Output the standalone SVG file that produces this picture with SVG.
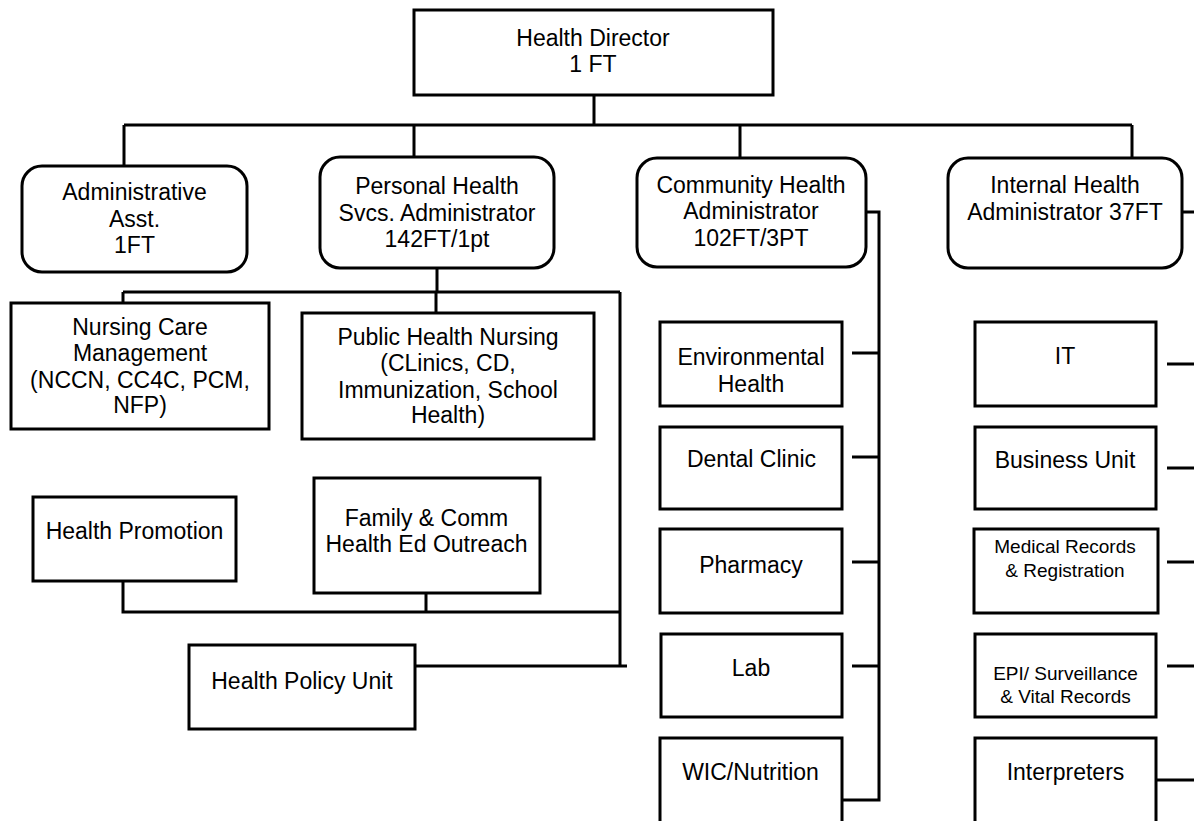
<svg xmlns="http://www.w3.org/2000/svg" width="1194" height="821" viewBox="0 0 1194 821">
<style>
.box{fill:#fff;stroke:#000;stroke-width:3}
.ln{fill:none;stroke:#000;stroke-width:3}
text{font-family:"Liberation Sans",Arial,sans-serif;font-size:23px;fill:#000;text-anchor:middle}
.sm{font-size:19px}
</style>
<rect width="1194" height="821" fill="#fff"/>
<g id="connectors" class="ln">
<path d="M594 95V125M124 125H1132M124 125V166M414 125V157M740 125V157M1132 125V157"/>
<path d="M437 268V292M123 292H620M123 292V303M436 292V313M620 292V666M415 666H627"/>
<path d="M123 581V612H620M426 593V612"/>
<path d="M866 212H879V800H842M852 353H879M852 457H879M852 562H879M852 666H879"/>
<path d="M1182 212H1194M1167 364H1194M1167 468H1194M1167 562H1194M1167 666H1194M1156 780H1194"/>
</g>
<g id="director"><rect class="box" x="414" y="10" width="359" height="85"/><text x="593" y="46">Health Director</text><text x="593" y="72">1 FT</text></g>
<g id="admin"><rect class="box" x="22" y="166" width="225" height="106" rx="20"/><text x="134.5" y="200">Administrative</text><text x="134.5" y="226.5">Asst.</text><text x="134.5" y="252.5">1FT</text></g>
<g id="personal"><rect class="box" x="320" y="157" width="234" height="111" rx="20"/><text x="437" y="194">Personal Health</text><text x="437" y="220.5">Svcs. Administrator</text><text x="437" y="246.5">142FT/1pt</text></g>
<g id="community"><rect class="box" x="637" y="158" width="229" height="109" rx="20"/><text x="751" y="193">Community Health</text><text x="751" y="219">Administrator</text><text x="751" y="246">102FT/3PT</text></g>
<g id="internal"><rect class="box" x="948" y="158" width="234" height="110" rx="20"/><text x="1065" y="193">Internal Health</text><text x="1065" y="220">Administrator 37FT</text></g>
<g id="nursing-care"><rect class="box" x="11" y="303" width="258" height="126"/><text x="140" y="335">Nursing Care</text><text x="140" y="361">Management</text><text x="140" y="388">(NCCN, CC4C, PCM,</text><text x="140" y="413">NFP)</text></g>
<g id="public-health-nursing"><rect class="box" x="302" y="313" width="292" height="126"/><text x="448" y="345">Public Health Nursing</text><text x="448" y="371">(CLinics, CD,</text><text x="448" y="398">Immunization, School</text><text x="448" y="423">Health)</text></g>
<g id="health-promotion"><rect class="box" x="33" y="497" width="203" height="84"/><text x="134.5" y="539">Health Promotion</text></g>
<g id="family-comm"><rect class="box" x="314" y="478" width="226" height="115"/><text x="426.5" y="526">Family &amp; Comm</text><text x="426.5" y="552">Health Ed Outreach</text></g>
<g id="health-policy"><rect class="box" x="189" y="645" width="226" height="84"/><text x="302" y="689">Health Policy Unit</text></g>
<g id="environmental"><rect class="box" x="660" y="322" width="182" height="84"/><text x="751" y="365">Environmental</text><text x="751" y="391.5">Health</text></g>
<g id="dental"><rect class="box" x="660" y="427" width="182" height="82"/><text x="751.5" y="467">Dental Clinic</text></g>
<g id="pharmacy"><rect class="box" x="660" y="529" width="182" height="84"/><text x="751" y="573">Pharmacy</text></g>
<g id="lab"><rect class="box" x="661" y="634" width="181" height="83"/><text x="751" y="676">Lab</text></g>
<g id="wic"><rect class="box" x="660" y="738" width="182" height="95"/><text x="750.5" y="780">WIC/Nutrition</text></g>
<g id="it"><rect class="box" x="975" y="322" width="181" height="84"/><text x="1065" y="364">IT</text></g>
<g id="business"><rect class="box" x="975" y="427" width="181" height="82"/><text x="1065" y="468">Business Unit</text></g>
<g id="medical-records"><rect class="box" x="974" y="529" width="184" height="84"/><text class="sm" x="1065" y="553">Medical Records</text><text class="sm" x="1065" y="577">&amp; Registration</text></g>
<g id="epi"><rect class="box" x="975" y="634" width="181" height="83"/><text class="sm" x="1065.5" y="680">EPI/ Surveillance</text><text class="sm" x="1065.5" y="703">&amp; Vital Records</text></g>
<g id="interpreters"><rect class="box" x="975" y="738" width="181" height="95"/><text x="1065.5" y="780">Interpreters</text></g>
</svg>
